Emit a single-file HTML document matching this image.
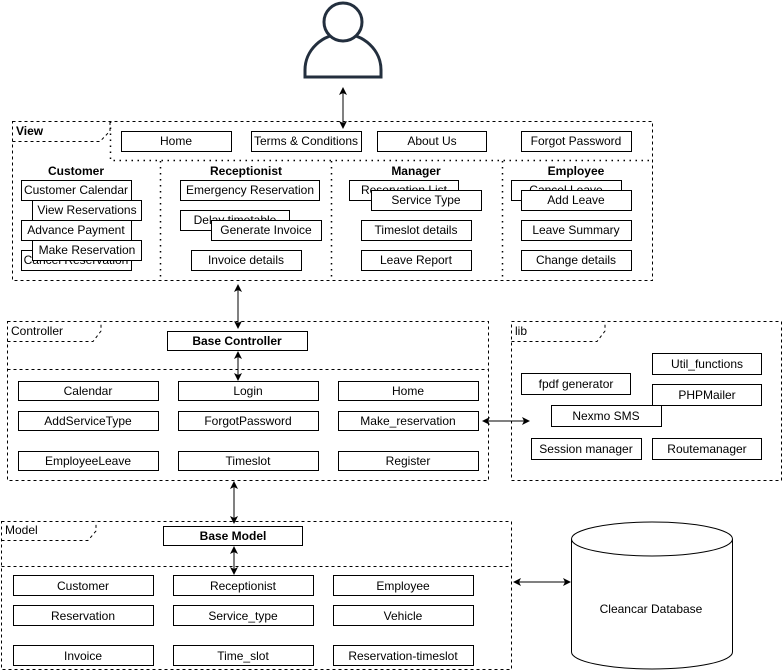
<!DOCTYPE html>
<html><head><meta charset="utf-8"><style>
html,body{margin:0;padding:0;background:#fff;}
svg{display:block;font-family:"Liberation Sans",Arial,sans-serif;}
text{font-size:12px;fill:#000;}
.b{fill:#fff;stroke:#000;stroke-width:1;}
.d{fill:none;stroke:#000;stroke-width:1;stroke-dasharray:3,3;}
.o{fill:none;stroke:#000;stroke-width:1.5;stroke-dasharray:1.5,4.5;}
.l{stroke:#000;stroke-width:1;fill:none;}
</style></head><body>
<svg width="783" height="672" viewBox="0 0 783 672" xmlns="http://www.w3.org/2000/svg">
<defs>
<marker id="a" markerWidth="8" markerHeight="8" refX="7" refY="4" orient="auto-start-reverse" markerUnits="userSpaceOnUse"><path d="M0,0 L8,4 L0,8 L2,4 Z" fill="#000"/></marker>
</defs>
<g stroke="#232f3e" stroke-width="3" fill="#fff">
<path d="M305,77 L305,70 A38,36 0 0 1 381,70 L381,77 Z"/>
<circle cx="343" cy="22" r="19"/>
</g>
<line class="l" x1="343" y1="88" x2="343" y2="128" marker-start="url(#a)" marker-end="url(#a)"/>

<rect class="d" x="12.5" y="121.5" width="640" height="159"/>
<path class="d" d="M12.5,141.5 H100 L110,131 V121.5"/>
<text x="16" y="135" font-weight="bold">View</text>
<path class="o" d="M110.5,121.5 V160.5 H651.5"/>
<line class="o" x1="160.5" y1="161" x2="160.5" y2="280"/>
<line class="o" x1="331.5" y1="161" x2="331.5" y2="280"/>
<line class="o" x1="502.5" y1="161" x2="502.5" y2="280"/>
<g text-anchor="middle">
<rect class="b" x="121.5" y="131.5" width="110" height="20"/><text x="176" y="145">Home</text>
<rect class="b" x="251.5" y="131.5" width="110" height="20"/><text x="306" y="145">Terms &amp; Conditions</text>
<rect class="b" x="377.5" y="131.5" width="109" height="20"/><text x="432" y="145">About Us</text>
<rect class="b" x="521.5" y="131.5" width="110" height="20"/><text x="576" y="145">Forgot Password</text>

<text x="76" y="175" font-weight="bold">Customer</text>
<text x="246" y="175" font-weight="bold">Receptionist</text>
<text x="416" y="175" font-weight="bold">Manager</text>
<text x="576" y="175" font-weight="bold">Employee</text>

<rect class="b" x="21.5" y="250.5" width="110" height="20"/><text x="76" y="264">Cancel Reservation</text>
<rect class="b" x="21.5" y="180.5" width="110" height="20"/><text x="76" y="194">Customer Calendar</text>
<rect class="b" x="32.5" y="200.5" width="109" height="20"/><text x="87" y="214">View Reservations</text>
<rect class="b" x="21.5" y="220.5" width="110" height="20"/><text x="76" y="234">Advance Payment</text>
<rect class="b" x="32.5" y="240.5" width="109" height="20"/><text x="87" y="254">Make Reservation</text>

<rect class="b" x="180.5" y="180.5" width="139" height="20"/><text x="250" y="194">Emergency Reservation</text>
<rect class="b" x="180.5" y="210.5" width="109" height="20"/><text x="235" y="224">Delay timetable</text>
<rect class="b" x="211.5" y="220.5" width="110" height="20"/><text x="266" y="234">Generate Invoice</text>
<rect class="b" x="191.5" y="250.5" width="110" height="20"/><text x="246" y="264">Invoice details</text>

<rect class="b" x="349.5" y="180.5" width="109" height="20"/><text x="404" y="194">Reservation List</text>
<rect class="b" x="371.5" y="190.5" width="110" height="20"/><text x="426" y="204">Service Type</text>
<rect class="b" x="361.5" y="220.5" width="110" height="20"/><text x="416" y="234">Timeslot details</text>
<rect class="b" x="361.5" y="250.5" width="110" height="20"/><text x="416" y="264">Leave Report</text>

<rect class="b" x="511.5" y="180.5" width="110" height="20"/><text x="566" y="194">Cancel Leave</text>
<rect class="b" x="521.5" y="190.5" width="110" height="20"/><text x="576" y="204">Add Leave</text>
<rect class="b" x="521.5" y="220.5" width="110" height="20"/><text x="576" y="234">Leave Summary</text>
<rect class="b" x="521.5" y="250.5" width="110" height="20"/><text x="576" y="264">Change details</text>
</g>

<line class="l" x1="238" y1="285" x2="238" y2="328" marker-start="url(#a)" marker-end="url(#a)"/>

<rect class="d" x="7.5" y="321.5" width="481" height="159"/>
<path class="d" d="M7.5,341.5 H93 L101,331 V321.5"/>
<text x="11" y="335">Controller</text>
<line class="d" x1="7.5" y1="369.5" x2="488" y2="369.5"/>
<g text-anchor="middle">
<rect class="b" x="167.5" y="331.5" width="140" height="19"/><text x="237" y="345" font-weight="bold">Base Controller</text>
<rect class="b" x="18.5" y="381.5" width="140" height="19"/><text x="88" y="395">Calendar</text>
<rect class="b" x="178.5" y="381.5" width="140" height="19"/><text x="248" y="395">Login</text>
<rect class="b" x="338.5" y="381.5" width="140" height="19"/><text x="408" y="395">Home</text>
<rect class="b" x="18.5" y="411.5" width="140" height="19"/><text x="88" y="425">AddServiceType</text>
<rect class="b" x="178.5" y="411.5" width="140" height="19"/><text x="248" y="425">ForgotPassword</text>
<rect class="b" x="338.5" y="411.5" width="140" height="19"/><text x="408" y="425">Make_reservation</text>
<rect class="b" x="18.5" y="451.5" width="140" height="19"/><text x="88" y="465">EmployeeLeave</text>
<rect class="b" x="178.5" y="451.5" width="140" height="19"/><text x="248" y="465">Timeslot</text>
<rect class="b" x="338.5" y="451.5" width="140" height="19"/><text x="408" y="465">Register</text>
</g>
<line class="l" x1="238" y1="352" x2="238" y2="380" marker-start="url(#a)" marker-end="url(#a)"/>
<line class="l" x1="483" y1="421" x2="529" y2="421" marker-start="url(#a)" marker-end="url(#a)"/>

<rect class="d" x="511.5" y="321.5" width="270" height="159"/>
<path class="d" d="M511.5,341.5 H597 L605,331 V321.5"/>
<text x="515" y="335">lib</text>
<g text-anchor="middle">
<rect class="b" x="652.5" y="353.5" width="109" height="21"/><text x="707" y="368">Util_functions</text>
<rect class="b" x="521.5" y="373.5" width="109" height="21"/><text x="576" y="388">fpdf generator</text>
<rect class="b" x="652.5" y="384.5" width="109" height="21"/><text x="707" y="399">PHPMailer</text>
<rect class="b" x="551.5" y="405.5" width="110" height="21"/><text x="606" y="420">Nexmo SMS</text>
<rect class="b" x="531.5" y="438.5" width="110" height="21"/><text x="586" y="453">Session manager</text>
<rect class="b" x="652.5" y="438.5" width="109" height="21"/><text x="707" y="453">Routemanager</text>
</g>

<line class="l" x1="234" y1="482" x2="234" y2="523" marker-start="url(#a)" marker-end="url(#a)"/>

<rect class="d" x="1.5" y="521.5" width="510" height="148"/>
<path class="d" d="M1.5,540.5 H88 L96,531 V521.5"/>
<text x="5" y="534">Model</text>
<line class="d" x1="1.5" y1="566.5" x2="511" y2="566.5"/>
<g text-anchor="middle">
<rect class="b" x="163.5" y="526.5" width="139" height="19"/><text x="233" y="540" font-weight="bold">Base Model</text>
<rect class="b" x="13.5" y="575.5" width="140" height="20"/><text x="83" y="590">Customer</text>
<rect class="b" x="173.5" y="575.5" width="140" height="20"/><text x="243" y="590">Receptionist</text>
<rect class="b" x="333.5" y="575.5" width="140" height="20"/><text x="403" y="590">Employee</text>
<rect class="b" x="13.5" y="605.5" width="140" height="20"/><text x="83" y="620">Reservation</text>
<rect class="b" x="173.5" y="605.5" width="140" height="20"/><text x="243" y="620">Service_type</text>
<rect class="b" x="333.5" y="605.5" width="140" height="20"/><text x="403" y="620">Vehicle</text>
<rect class="b" x="13.5" y="645.5" width="140" height="20"/><text x="83" y="660">Invoice</text>
<rect class="b" x="173.5" y="645.5" width="140" height="20"/><text x="243" y="660">Time_slot</text>
<rect class="b" x="333.5" y="645.5" width="140" height="20"/><text x="403" y="660">Reservation-timeslot</text>
</g>
<line class="l" x1="234" y1="547" x2="234" y2="574" marker-start="url(#a)" marker-end="url(#a)"/>
<line class="l" x1="514" y1="582" x2="570" y2="582" marker-start="url(#a)" marker-end="url(#a)"/>

<path class="b" d="M571.5,539 A80.5,17 0 0 1 732.5,539 V652 A80.5,17 0 0 1 571.5,652 Z"/>
<path class="l" d="M571.5,539 A80.5,17 0 0 0 732.5,539"/>
<text x="651" y="613" text-anchor="middle">Cleancar Database</text>
</svg>
</body></html>
